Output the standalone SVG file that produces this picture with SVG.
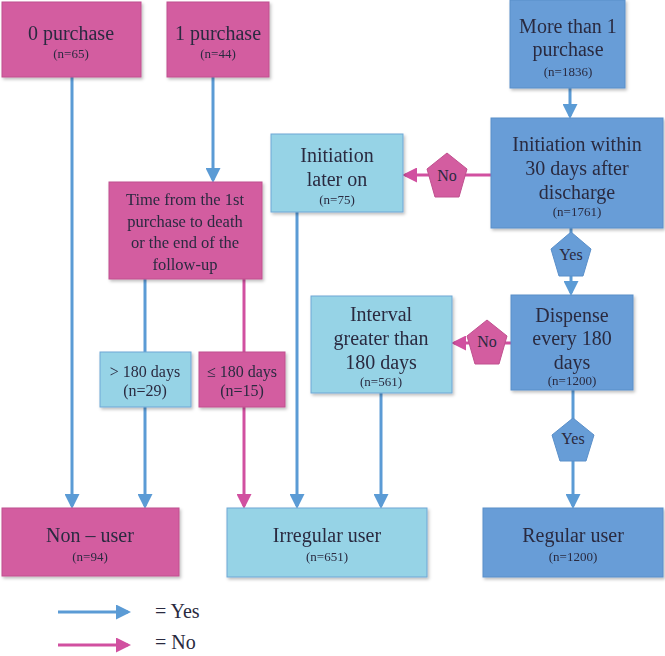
<svg xmlns="http://www.w3.org/2000/svg" width="665" height="656" viewBox="0 0 665 656">
<defs>
<filter id="sh" x="-10%" y="-10%" width="130%" height="130%"><feDropShadow dx="1.5" dy="2" stdDeviation="1.5" flood-color="#000" flood-opacity="0.25"/></filter>
<marker id="ab" markerWidth="5" markerHeight="5" refX="4" refY="2.5" orient="auto" markerUnits="strokeWidth"><path d="M0,0 L5,2.5 L0,5 Z" fill="#5B9BD5"/></marker>
<marker id="am" markerWidth="5" markerHeight="5" refX="4" refY="2.5" orient="auto" markerUnits="strokeWidth"><path d="M0,0 L5,2.5 L0,5 Z" fill="#D150A0"/></marker>
</defs>
<g id="connectors" stroke-width="3" fill="none">
<line stroke="#5B9BD5" x1="72" y1="77" x2="72" y2="506" marker-end="url(#ab)"/>
<line stroke="#5B9BD5" x1="213" y1="77" x2="213" y2="180" marker-end="url(#ab)"/>
<line stroke="#5B9BD5" x1="145" y1="279" x2="145" y2="352"/>
<line stroke="#5B9BD5" x1="145" y1="407" x2="145" y2="506" marker-end="url(#ab)"/>
<line stroke="#D150A0" x1="244" y1="279" x2="244" y2="352"/>
<line stroke="#D150A0" x1="244" y1="407" x2="244" y2="506" marker-end="url(#am)"/>
<line stroke="#5B9BD5" x1="297" y1="212" x2="297" y2="506" marker-end="url(#ab)"/>
<line stroke="#5B9BD5" x1="381" y1="393" x2="381" y2="506" marker-end="url(#ab)"/>
<line stroke="#5B9BD5" x1="570" y1="88" x2="570" y2="116" marker-end="url(#ab)"/>
<line stroke="#5B9BD5" x1="571" y1="228" x2="571" y2="293" marker-end="url(#ab)"/>
<line stroke="#5B9BD5" x1="573" y1="390" x2="573" y2="506" marker-end="url(#ab)"/>
<line stroke="#D150A0" x1="491" y1="175" x2="405" y2="175" marker-end="url(#am)"/>
<line stroke="#D150A0" x1="511" y1="343" x2="454" y2="343" marker-end="url(#am)"/>
</g>
<g style="font-family:'Times New Roman','Liberation Serif',serif" fill="#2A2A40" text-anchor="middle">
<g id="p0" filter="url(#sh)"><rect fill="#D35DA0" stroke="#C0508F" x="2" y="2" width="139" height="75"/><text x="71" y="40" font-size="20">0  purchase</text><text x="71" y="58" font-size="13">(n=65)</text></g>
<g id="p1" filter="url(#sh)"><rect fill="#D35DA0" stroke="#C0508F" x="167" y="2" width="102" height="75"/><text x="218" y="40" font-size="20">1 purchase</text><text x="218" y="58" font-size="13">(n=44)</text></g>
<g id="pmore" filter="url(#sh)"><rect fill="#679DD7" stroke="#5A8FC9" x="510" y="0" width="115" height="88"/><text x="568" y="33" font-size="20">More than 1</text><text x="568" y="56" font-size="20">purchase</text><text x="568" y="76" font-size="13">(n=1836)</text></g>
<g id="init30" filter="url(#sh)"><rect fill="#679DD7" stroke="#5A8FC9" x="491" y="118" width="172" height="110"/><text x="577" y="151" font-size="20">Initiation within</text><text x="577" y="175" font-size="20">30 days after</text><text x="577" y="199" font-size="20">discharge</text><text x="577" y="216" font-size="13">(n=1761)</text></g>
<g id="initlater" filter="url(#sh)"><rect fill="#96D3E6" stroke="#6FA7D6" x="271" y="134" width="132" height="78"/><text x="337" y="162" font-size="20">Initiation</text><text x="337" y="186" font-size="20">later on</text><text x="337" y="204" font-size="13">(n=75)</text></g>
<g id="timefrom" filter="url(#sh)"><rect fill="#D35DA0" stroke="#C0508F" x="109" y="182" width="153" height="97"/><text x="185" y="205" font-size="16.5">Time from the 1st</text><text x="185" y="227" font-size="16.5">purchase to death</text><text x="185" y="248" font-size="16.5">or the end of the</text><text x="185" y="270" font-size="16.5">follow-up</text></g>
<g id="gt180" filter="url(#sh)"><rect fill="#96D3E6" stroke="#6FA7D6" x="100" y="352" width="91" height="55"/><text x="145" y="377" font-size="16">&gt; 180 days</text><text x="145" y="396" font-size="16">(n=29)</text></g>
<g id="le180" filter="url(#sh)"><rect fill="#D35DA0" stroke="#C0508F" x="199" y="352" width="86" height="55"/><text x="242" y="377" font-size="16">≤ 180 days</text><text x="242" y="396" font-size="16">(n=15)</text></g>
<g id="dispense" filter="url(#sh)"><rect fill="#679DD7" stroke="#5A8FC9" x="511" y="295" width="122" height="95"/><text x="572" y="322" font-size="20">Dispense</text><text x="572" y="345" font-size="20">every 180</text><text x="572" y="369" font-size="20">days</text><text x="572" y="385" font-size="13">(n=1200)</text></g>
<g id="interval" filter="url(#sh)"><rect fill="#96D3E6" stroke="#6FA7D6" x="311" y="296" width="141" height="97"/><text x="381" y="321" font-size="20">Interval</text><text x="381" y="345" font-size="20">greater than</text><text x="381" y="369" font-size="20">180 days</text><text x="381" y="386" font-size="13">(n=561)</text></g>
<g id="no1"><polygon fill="#D35DA0" stroke="#C0508F" points="447,153 467,169 459,197 435,197 427,169"/><text x="447" y="181" font-size="16">No</text></g>
<g id="no2"><polygon fill="#D35DA0" stroke="#C0508F" points="487,320 507,336 499,364 475,364 467,336"/><text x="487" y="347" font-size="16">No</text></g>
<g id="yes1"><polygon fill="#679DD7" stroke="#5A8FC9" points="571,232 591,249 583,276 559,276 551,249"/><text x="571" y="260" font-size="16">Yes</text></g>
<g id="yes2"><polygon fill="#679DD7" stroke="#5A8FC9" points="573,418 594,435 586,461 560,461 552,435"/><text x="573" y="444" font-size="16">Yes</text></g>
<g id="nonuser" filter="url(#sh)"><rect fill="#D35DA0" stroke="#C0508F" x="2" y="508" width="177" height="68"/><text x="90" y="542" font-size="20">Non – user</text><text x="90" y="561" font-size="13">(n=94)</text></g>
<g id="irregular" filter="url(#sh)"><rect fill="#96D3E6" stroke="#6FA7D6" x="227" y="508" width="200" height="69"/><text x="327" y="542" font-size="20">Irregular user</text><text x="327" y="561" font-size="13">(n=651)</text></g>
<g id="regular" filter="url(#sh)"><rect fill="#679DD7" stroke="#5A8FC9" x="483" y="508" width="180" height="69"/><text x="573" y="542" font-size="20">Regular user</text><text x="573" y="561" font-size="13">(n=1200)</text></g>
<g id="legend">
<line stroke="#5B9BD5" stroke-width="3" x1="58" y1="612" x2="128" y2="612" marker-end="url(#ab)"/>
<text x="155" y="618" font-size="20" text-anchor="start">= Yes</text>
<line stroke="#D150A0" stroke-width="3" x1="58" y1="645" x2="128" y2="645" marker-end="url(#am)"/>
<text x="155" y="649" font-size="20" text-anchor="start">= No</text>
</g>
</g>
</svg>
